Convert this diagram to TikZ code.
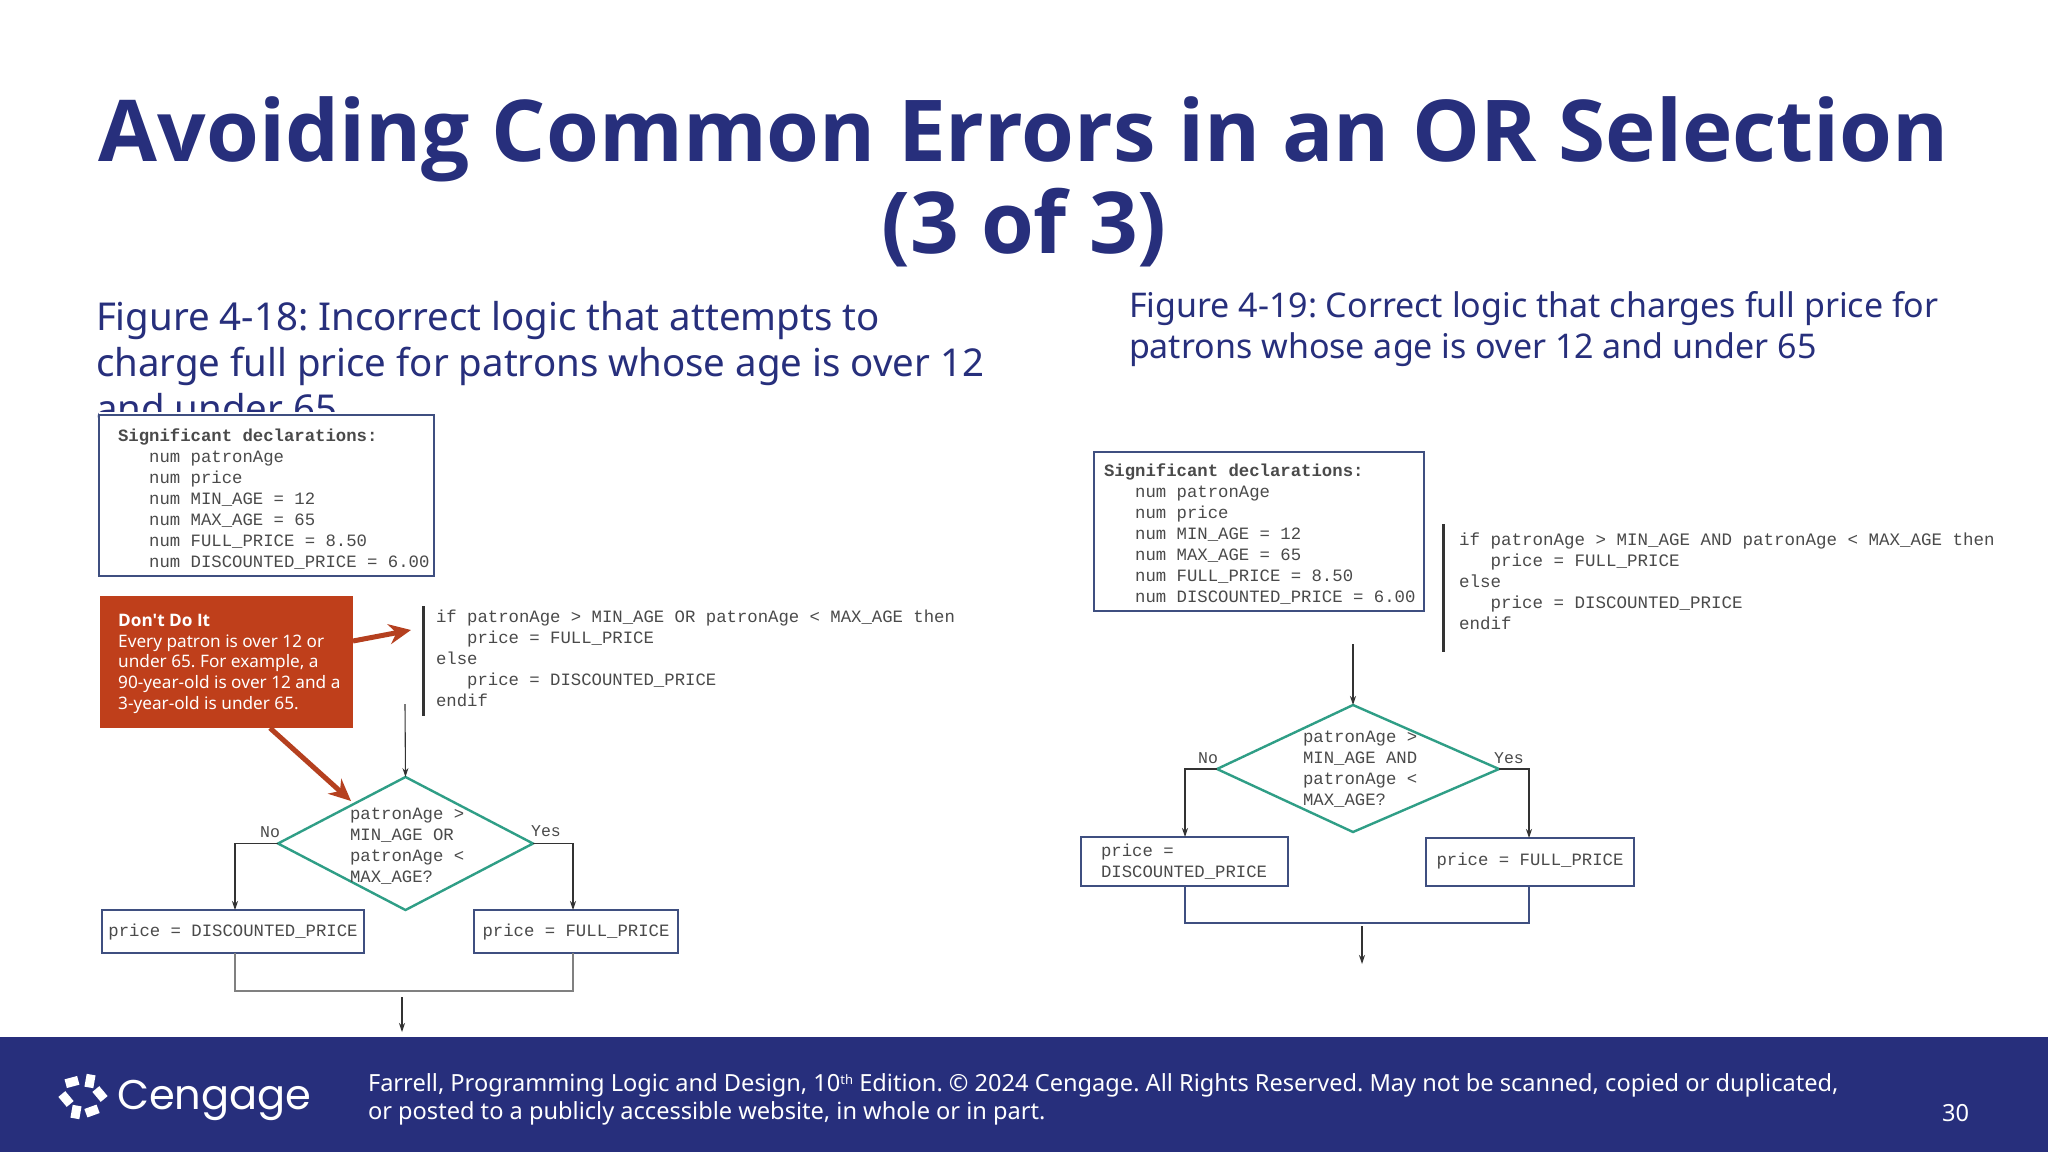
\documentclass[tikz,border=0pt]{standalone}
\usepackage{fontspec}
\setmainfont{Noto Sans}
\setmonofont{Liberation Mono}
\newfontfamily\logofont{Poppins}
\newfontfamily\boldfam{Open Sans}
\usetikzlibrary{shapes.geometric,arrows.meta}
\definecolor{navy}{HTML}{272F7C}
\definecolor{boxline}{HTML}{3F4F80}
\definecolor{teal1}{HTML}{2F9E86}
\definecolor{redbox}{HTML}{BF3F1B}
\definecolor{redarr}{HTML}{B5401F}
\definecolor{codegray}{HTML}{4A4A4A}
\definecolor{flowgray}{HTML}{333333}
\newcommand{\fl}{\rule{0pt}{14pt}}
\frenchspacing
\tikzset{
  x=1pt,y=-1pt,
  txt/.style={anchor=base west,inner sep=0,outer sep=0},
  code/.style={anchor=north west,inner sep=0,outer sep=0,align=left,text=codegray,font=\ttfamily\fontsize{17.3}{21}\selectfont},
  lbl/.style={anchor=center,inner sep=0,text=codegray,font=\ttfamily\fontsize{16.5}{20}\selectfont},
  fbox/.style={draw=boxline,line width=2.4pt,fill=white,inner sep=0,outer sep=0,anchor=north west},
  dec/.style={draw=teal1,line width=2.4pt,diamond,inner sep=0,outer sep=0,fill=white},
  flow/.style={draw=flowgray,line width=1.1pt,-{Stealth[length=9pt,width=6pt]}},
  plain/.style={draw=flowgray,line width=1.1pt},
  redarrow/.style={draw=redarr,line width=5pt,-{Stealth[length=22pt,width=20pt]}},
  headingA/.style={txt,text=navy,font=\fontsize{38.4}{48}\selectfont},
  headingB/.style={txt,text=navy,font=\fontsize{34}{41}\selectfont},
  foot/.style={txt,text=white,font=\fontsize{23.6}{28}\selectfont},
  petal/.style={fill=white,draw=none,minimum width=13pt,minimum height=9pt,inner sep=0},
}
\begin{document}
\begin{tikzpicture}
\useasboundingbox (0,0) rectangle (2048,1152);
\fill[white] (0,0) rectangle (2048,1152);
% title
\node[anchor=base,inner sep=0,text=navy,font=\boldfam\bfseries\fontsize{85.4}{92}\selectfont] (t1) at (1024,161) {Avoiding Common Errors in an OR Selection};
\node[anchor=base,inner sep=0,text=navy,font=\boldfam\bfseries\fontsize{85.4}{92}\selectfont] (t2) at (1024,253) {(3 of 3)};
% left heading
\node[headingA] (ha1) at (96,330) {Figure 4-18: Incorrect logic that attempts to};
\node[headingA] (ha2) at (96,376) {charge full price for patrons whose age is over 12};
\node[headingA] (ha3) at (96,422) {and under 65};
\fill[white] (99,412) rectangle (1000,1036);
% right heading
\node[headingB] (hb1) at (1129,317) {Figure 4-19: Correct logic that charges full price for};
\node[headingB] (hb2) at (1129,358) {patrons whose age is over 12 and under 65};

% LEFT FIGURE
\node[fbox,minimum width=335pt,minimum height=161pt] (dl) at (99,415) {};
\node[code] (dlt) at (118,427) {\fl\textbf{Significant declarations:}\\
\ \ \ num patronAge\\
\ \ \ num price\\
\ \ \ num MIN\_AGE = 12\\
\ \ \ num MAX\_AGE = 65\\
\ \ \ num FULL\_PRICE = 8.50\\
\ \ \ num DISCOUNTED\_PRICE = 6.00};
\node[fill=redbox,anchor=north west,inner sep=0,minimum width=253pt,minimum height=132pt] (warn) at (100,596) {};
\node[anchor=north west,inner sep=0,align=left,text=white,font=\fontsize{17.2}{20.8}\selectfont] (warnt) at (118,612) {\rule{0pt}{14pt}{\boldfam\bfseries Don't Do It}\\
Every patron is over 12 or\\
under 65. For example, a\\
90-year-old is over 12 and a\\
3-year-old is under 65.};
\draw[line width=3pt,color=flowgray] (423,606) coordinate (bl1) -- (423,716) coordinate (bl2);
\node[code] (cl) at (436,608) {\fl if patronAge > MIN\_AGE OR patronAge < MAX\_AGE then\\
\ \ \ price = FULL\_PRICE\\
else\\
\ \ \ price = DISCOUNTED\_PRICE\\
endif};
\coordinate (rl1) at (353,641);
\coordinate (rl2) at (411,630);
\draw[redarrow] (rl1) -- (rl2);
\node[dec,minimum width=255pt,minimum height=133pt] (q) at (405.5,843.5) {};
\node[code] (qt) at (350,805) {\fl patronAge >\\MIN\_AGE OR\\patronAge <\\MAX\_AGE?};
\coordinate (rl3) at (270,728);
\draw[redarrow] (rl3) -- (351,801);
\coordinate (in1) at (405,704);
\draw[flow] (in1) -- (q.north);
\node[lbl] (ln) at (270,832) {No};
\node[lbl] (ly) at (546,831) {Yes};
\node[fbox,minimum width=262pt,minimum height=43pt] (bd) at (102,910) {};
\node[fbox,minimum width=204pt,minimum height=43pt] (bf) at (474,910) {};
\node[code,anchor=center] (bdt) at (233,932) {price = DISCOUNTED\_PRICE};
\node[code,anchor=center] (bft) at (576,932) {price = FULL\_PRICE};
\coordinate (mla) at (235,953);
\coordinate (mlb) at (573,953);
\draw[flow] (q.west) -- ++(-43,0) -- (mla |- bd.north);
\draw[flow] (q.east) -- (mlb |- q.east) -- (mlb |- bf.north);
\draw[plain,draw=gray] (mla) -- (235,991) -- (573,991) -- (mlb);
\coordinate (ol) at (402,997);
\coordinate (ol2) at (402,1032);
\draw[flow] (ol) -- (ol2);

% RIGHT FIGURE
\node[fbox,minimum width=330pt,minimum height=159pt] (dr) at (1094,452) {};
\node[code] (drt) at (1104,462) {\fl\textbf{Significant declarations:}\\
\ \ \ num patronAge\\
\ \ \ num price\\
\ \ \ num MIN\_AGE = 12\\
\ \ \ num MAX\_AGE = 65\\
\ \ \ num FULL\_PRICE = 8.50\\
\ \ \ num DISCOUNTED\_PRICE = 6.00};
\draw[line width=3pt,color=flowgray] (1443,524) coordinate (br1) -- (1443,652) coordinate (br2);
\node[code,font=\ttfamily\fontsize{17.5}{21.2}\selectfont] (cr) at (1459,531) {\fl if patronAge > MIN\_AGE AND patronAge < MAX\_AGE then\\
\ \ \ price = FULL\_PRICE\\
else\\
\ \ \ price = DISCOUNTED\_PRICE\\
endif};
\coordinate (q2T) at (1353,705);
\coordinate (q2L) at (1217,769);
\coordinate (q2B) at (1353,832);
\coordinate (q2R) at (1499,769);
\draw[draw=teal1,line width=2.4pt,line join=miter] (q2T) -- (q2R) -- (q2B) -- (q2L) -- cycle;
\node[code] (q2t) at (1303,728) {\fl patronAge >\\MIN\_AGE AND\\patronAge <\\MAX\_AGE?};
\coordinate (in2) at (1353,644);
\draw[flow] (in2) -- (q2T);
\node[lbl] (rn) at (1208,758) {No};
\node[lbl] (ry) at (1509,758) {Yes};
\node[fbox,minimum width=207pt,minimum height=49pt] (rd) at (1081,837) {};
\node[fbox,minimum width=208pt,minimum height=48pt] (rf) at (1426,838) {};
\node[code] (rdt) at (1101,842) {\fl price =\\DISCOUNTED\_PRICE};
\node[code,anchor=center] (rft) at (1530,861) {price = FULL\_PRICE};
\coordinate (mra) at (1185,886);
\coordinate (mrb) at (1529,886);
\draw[flow] (q2L) -- (mra |- q2L) -- (mra |- rd.north);
\draw[flow] (q2R) -- (mrb |- q2R) -- (mrb |- rf.north);
\draw[plain,draw=boxline,line width=1.4pt] (mra) -- (1185,923) -- (1529,923) -- (mrb);
\coordinate (or) at (1362,926);
\coordinate (or2) at (1362,964);
\draw[flow] (or) -- (or2);

% FOOTER
\fill[navy] (0,1037) rectangle (2048,1152);
\node[foot] (f1) at (368,1091) {Farrell, Programming Logic and Design, 10\raisebox{0.55ex}{\fontsize{13}{13}\selectfont th} Edition. © 2024 Cengage. All Rights Reserved. May not be scanned, copied or duplicated,};
\node[foot] (f2) at (368,1119) {or posted to a publicly accessible website, in whole or in part.};
\node[foot] (pg) at (1942,1121) {30};
\node[petal,rotate=15] (p1) at (72,1082) {};
\node[petal,rotate=80] (p2) at (90,1081) {};
\node[petal,rotate=-50] (p3) at (100,1094) {};
\node[petal,rotate=20] (p4) at (92,1111) {};
\node[petal,rotate=80] (p5) at (76,1112) {};
\node[petal,rotate=-50] (p6) at (66,1099) {};
\node[txt,text=white,font=\logofont\fontsize{41.5}{50}\selectfont] (logo) at (117,1109) {Cengage};
\end{tikzpicture}
\end{document}
